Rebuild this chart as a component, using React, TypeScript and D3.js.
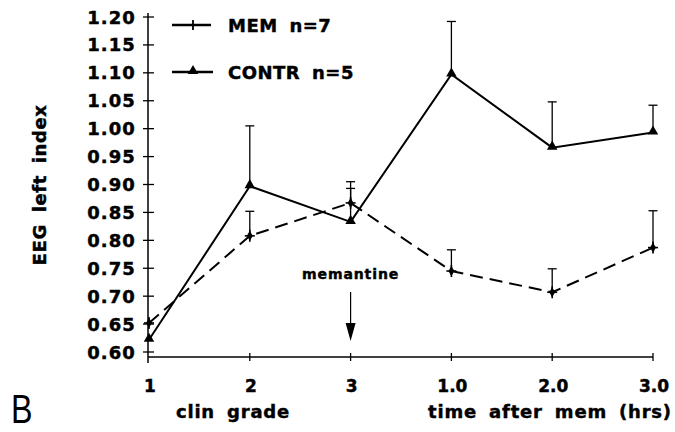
import React from "react";
import * as d3 from "d3";

const categories = ["1", "2", "3", "1.0", "2.0", "3.0"];
const memValues = [0.652, 0.808, 0.867, 0.745, 0.707, 0.787];
const memErrTop = [null, 0.852, 0.905, 0.783, 0.749, 0.853];
const contrValues = [0.622, 0.897, 0.833, 1.097, 0.966, 0.993];
const contrErrTop = [null, 1.005, 0.893, 1.192, 1.048, 1.042];
const yTicks = [0.6, 0.65, 0.7, 0.75, 0.8, 0.85, 0.9, 0.95, 1.0, 1.05, 1.1, 1.15, 1.2];

const W = 675;
const H = 432;
const FONT = "'DejaVu Sans', sans-serif";
const heavy = { stroke: "#000", strokeWidth: 0.45 };

export default function App() {
  const x = d3.scalePoint<string>().domain(categories).range([149, 653]);
  const y = d3.scaleLinear().domain([0.6, 1.2]).range([352, 17]);
  const axisY = 357;
  const line = d3
    .line<number>()
    .x((_, i) => x(categories[i]) as number)
    .y((d) => y(d));
  const tri = d3.symbol().type(d3.symbolTriangle).size(48)();
  const diamond = d3.symbol().type(d3.symbolDiamond).size(30)();

  const plusMarker = (cx: number, cy: number, key: string) => (
    <g key={key} transform={`translate(${cx},${cy})`}>
      <path d={diamond as string} fill="#000" />
      <line x1={0} x2={0} y1={-6} y2={6} stroke="#000" strokeWidth={1.6} />
      <line x1={-5} x2={5} y1={0} y2={0} stroke="#000" strokeWidth={1.6} />
    </g>
  );
  const triMarker = (cx: number, cy: number, key: string) => (
    <path key={key} d={tri as string} transform={`translate(${cx},${cy - 1})`} fill="#000" />
  );
  const errBar = (cx: number, v: number, top: number | null, key: string) =>
    top == null ? null : (
      <g key={key} stroke="#000" strokeWidth={1.3}>
        <line x1={cx} x2={cx} y1={y(v)} y2={y(top)} />
        <line x1={cx - 4.5} x2={cx + 4.5} y1={y(top)} y2={y(top)} />
      </g>
    );

  const memX = x("3") as number;

  return (
    <svg width={W} height={H} style={{ position: "absolute", left: 0, top: 0, background: "#fff" }}>
      <rect width={W} height={H} fill="#fff" />
      {/* axes */}
      <line x1={148} x2={148} y1={13} y2={363} stroke="#000" strokeWidth={1.5} />
      <line x1={148} x2={653} y1={axisY} y2={axisY} stroke="#000" strokeWidth={1.5} />
      {yTicks.map((t) => (
        <g key={"yt" + t}>
          <line x1={143} x2={154} y1={y(t)} y2={y(t)} stroke="#000" strokeWidth={1.3} />
          <text
            x={136}
            y={y(t) + 6.5}
            textAnchor="end"
            fontFamily={FONT}
            fontWeight="bold"
            fontSize={18}
            letterSpacing={1.1}
            {...heavy}
          >
            {t.toFixed(2)}
          </text>
        </g>
      ))}
      {categories.map((c, i) => (
        <g key={"xt" + c}>
          {i > 0 && (
            <line x1={x(c)} x2={x(c)} y1={axisY - 4} y2={axisY + 4} stroke="#000" strokeWidth={1.3} />
          )}
          <text
            x={(x(c) as number) + 1}
            y={392}
            textAnchor="middle"
            fontFamily={FONT}
            fontWeight="bold"
            fontSize={17}
            {...heavy}
          >
            {c}
          </text>
        </g>
      ))}
      {/* axis titles */}
      <text
        x={233}
        y={418}
        textAnchor="middle"
        fontFamily={FONT}
        fontWeight="bold"
        fontSize={18}
        letterSpacing={0.8}
        wordSpacing={5}
        {...heavy}
      >
        clin grade
      </text>
      <text
        x={550}
        y={418}
        textAnchor="middle"
        fontFamily={FONT}
        fontWeight="bold"
        fontSize={18}
        letterSpacing={0.8}
        wordSpacing={5}
        {...heavy}
      >
        time after mem (hrs)
      </text>
      <text
        transform="translate(46,185) rotate(-90)"
        textAnchor="middle"
        fontFamily={FONT}
        fontWeight="bold"
        fontSize={18}
        letterSpacing={0.6}
        wordSpacing={5}
        {...heavy}
      >
        EEG left index
      </text>
      <text
        transform="translate(11,423) scale(0.85,1.05)"
        fontFamily="'Liberation Sans', Arial, sans-serif"
        fontSize={38}
      >
        B
      </text>

      {/* series lines */}
      <path d={line(contrValues) as string} fill="none" stroke="#000" strokeWidth={2} />
      <path
        d={line(memValues) as string}
        fill="none"
        stroke="#000"
        strokeWidth={2}
        strokeDasharray="13 7"
      />
      {contrValues.map((v, i) => errBar(x(categories[i]) as number, v, contrErrTop[i], "ce" + i))}
      {memValues.map((v, i) => errBar(x(categories[i]) as number, v, memErrTop[i], "me" + i))}
      {contrValues.map((v, i) => triMarker(x(categories[i]) as number, y(v), "cm" + i))}
      {memValues.map((v, i) => plusMarker(x(categories[i]) as number, y(v), "mm" + i))}

      {/* memantine annotation */}
      <text
        x={memX}
        y={279}
        textAnchor="middle"
        fontFamily={FONT}
        fontWeight="bold"
        fontSize={14}
        letterSpacing={0.9}
        {...heavy}
      >
        memantine
      </text>
      <line x1={memX} x2={memX} y1={292} y2={326} stroke="#000" strokeWidth={1.2} />
      <path d={`M${memX - 5},323 L${memX + 5},323 L${memX},341 Z`} fill="#000" />

      {/* legend */}
      <line x1={172} x2={211} y1={25} y2={25} stroke="#000" strokeWidth={2.5} />
      <line x1={193} x2={193} y1={20} y2={30} stroke="#000" strokeWidth={1.8} />
      <text x={228} y={31.5} fontFamily={FONT} fontWeight="bold" fontSize={18} letterSpacing={0.5} wordSpacing={5} {...heavy}>
        MEM n=7
      </text>
      <line x1={172} x2={213} y1={72} y2={72} stroke="#000" strokeWidth={2.5} />
      <path d={tri as string} transform="translate(193,71)" fill="#000" />
      <text x={228} y={78.5} fontFamily={FONT} fontWeight="bold" fontSize={18} letterSpacing={0.5} wordSpacing={5} {...heavy}>
        CONTR n=5
      </text>
    </svg>
  );
}
